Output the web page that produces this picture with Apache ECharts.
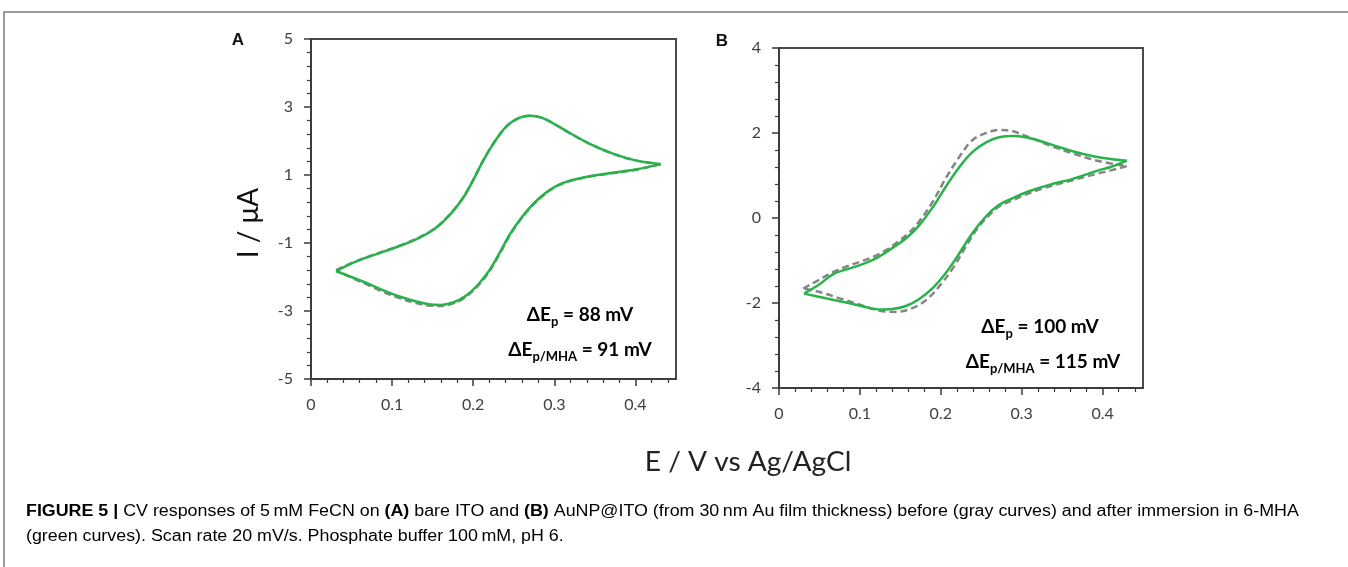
<!DOCTYPE html>
<html>
<head>
<meta charset="utf-8">
<script src="https://cdn.jsdelivr.net/npm/echarts@6/dist/echarts.min.js"></script>
<style>
html,body{margin:0;padding:0;background:#fff;}
#chart{width:1348px;height:567px;}
</style>
</head>
<body>
<div id="chart"></div>
<script>
// ---------- tick labels ----------
const xTickValues = [0, 0.1, 0.2, 0.3, 0.4];
const yTickValuesA = [-5, -3, -1, 1, 3, 5];
const yTickValuesB = [-4, -2, 0, 2, 4];

// ---------- Panel A (bare ITO) : [E (V), I (uA)] ----------
const aGrayFwd = [[0.031,-1.80],[0.05,-1.59],[0.073,-1.38],[0.1,-1.16],[0.12,-0.98],[0.134,-0.83],[0.147,-0.66],[0.158,-0.47],[0.17,-0.19],[0.18,0.09],[0.19,0.43],[0.2,0.86],[0.213,1.46],[0.227,2.0],[0.241,2.43],[0.256,2.67],[0.27,2.74],[0.285,2.68],[0.3,2.5],[0.32,2.22],[0.345,1.9],[0.373,1.62],[0.4,1.43],[0.431,1.32]];
const aGrayRev = [[0.431,1.32],[0.4,1.15],[0.37,1.05],[0.345,0.96],[0.325,0.86],[0.31,0.75],[0.295,0.56],[0.282,0.31],[0.27,0.03],[0.258,-0.32],[0.245,-0.78],[0.233,-1.3],[0.22,-1.83],[0.205,-2.28],[0.19,-2.6],[0.175,-2.78],[0.16,-2.85],[0.145,-2.84],[0.13,-2.77],[0.11,-2.63],[0.09,-2.45],[0.07,-2.23],[0.05,-2.02],[0.031,-1.80]];
const aGreenFwd = [[0.031,-1.83],[0.05,-1.6],[0.073,-1.39],[0.1,-1.17],[0.12,-0.99],[0.134,-0.84],[0.147,-0.67],[0.158,-0.48],[0.17,-0.2],[0.18,0.08],[0.19,0.42],[0.2,0.85],[0.213,1.45],[0.227,2.0],[0.241,2.43],[0.256,2.67],[0.27,2.74],[0.285,2.68],[0.3,2.5],[0.32,2.22],[0.345,1.9],[0.373,1.62],[0.4,1.43],[0.431,1.32]];
const aGreenRev = [[0.431,1.32],[0.4,1.16],[0.37,1.06],[0.345,0.97],[0.325,0.87],[0.31,0.76],[0.295,0.57],[0.282,0.33],[0.27,0.05],[0.258,-0.3],[0.245,-0.75],[0.233,-1.27],[0.22,-1.8],[0.205,-2.25],[0.19,-2.57],[0.175,-2.75],[0.16,-2.82],[0.145,-2.8],[0.13,-2.72],[0.11,-2.58],[0.09,-2.4],[0.07,-2.19],[0.05,-2.0],[0.031,-1.83]];

// ---------- Panel B (AuNP@ITO) ----------
const bGrayFwd = [[0.03,-1.66],[0.05,-1.45],[0.067,-1.27],[0.085,-1.13],[0.1,-1.03],[0.118,-0.9],[0.132,-0.76],[0.147,-0.56],[0.16,-0.36],[0.173,-0.09],[0.19,0.38],[0.206,0.93],[0.223,1.44],[0.239,1.83],[0.256,2.0],[0.272,2.07],[0.285,2.06],[0.3,1.97],[0.315,1.86],[0.334,1.71],[0.363,1.52],[0.395,1.34],[0.43,1.22]];
const bGrayRev = [[0.43,1.22],[0.41,1.12],[0.395,1.05],[0.363,0.89],[0.334,0.74],[0.309,0.58],[0.289,0.42],[0.272,0.27],[0.26,0.07],[0.247,-0.2],[0.231,-0.67],[0.215,-1.18],[0.198,-1.61],[0.182,-1.93],[0.165,-2.12],[0.145,-2.21],[0.124,-2.18],[0.1,-2.04],[0.075,-1.89],[0.05,-1.74],[0.03,-1.66]];
const bGreenFwd = [[0.031,-1.78],[0.05,-1.56],[0.067,-1.32],[0.085,-1.2],[0.1,-1.11],[0.118,-0.97],[0.132,-0.81],[0.147,-0.62],[0.16,-0.43],[0.173,-0.18],[0.19,0.25],[0.206,0.73],[0.223,1.2],[0.239,1.55],[0.256,1.78],[0.272,1.9],[0.29,1.93],[0.305,1.9],[0.32,1.83],[0.338,1.72],[0.363,1.57],[0.387,1.46],[0.41,1.39],[0.43,1.35]];
const bGreenRev = [[0.43,1.35],[0.41,1.2],[0.395,1.12],[0.363,0.92],[0.334,0.78],[0.309,0.63],[0.289,0.47],[0.272,0.31],[0.256,0.04],[0.239,-0.36],[0.223,-0.83],[0.206,-1.3],[0.19,-1.65],[0.173,-1.91],[0.157,-2.07],[0.14,-2.14],[0.125,-2.15],[0.108,-2.1],[0.083,-1.99],[0.058,-1.89],[0.031,-1.78]];

// ---------- styling / helpers ----------
const GREEN = '#27b24a';
const GRAY = '#858585';
const AXIS = '#3a3a3a';
const FONT = 'Lato, "Open Sans", sans-serif';

function minorTicks(min, max, step, majors) {
  const out = [];
  const n = Math.round((max - min) / step);
  for (let i = 0; i <= n; i++) {
    const v = +(min + i * step).toFixed(4);
    if (!majors.some(m => Math.abs(m - v) < 1e-6)) out.push(v);
  }
  return out;
}
const xMinor = minorTicks(0, 0.44, 0.02, xTickValues);
const yMinorA = minorTicks(-5, 5, 0.4, yTickValuesA);
const yMinorB = minorTicks(-4, 4, 0.4, yTickValuesB);

function mainX(grid) {
  return {
    type: 'value', gridIndex: grid, min: 0, max: 0.45,
    axisLine: { show: true, onZero: false, lineStyle: { color: AXIS, width: 1.5 } },
    axisTick: { show: true, inside: false, length: 7, customValues: xTickValues, lineStyle: { color: AXIS, width: 1.5 } },
    axisLabel: { show: true, customValues: xTickValues, margin: 18, color: '#404040', fontSize: 16, fontFamily: FONT,
      formatter: v => String(+v.toFixed(2)) },
    splitLine: { show: false }
  };
}
function minorX(grid) {
  return {
    type: 'value', gridIndex: grid, min: 0, max: 0.45, position: 'bottom',
    axisLine: { show: false, onZero: false },
    axisTick: { show: true, inside: false, length: 4, customValues: xMinor, lineStyle: { color: AXIS, width: 1.2 } },
    axisLabel: { show: false }, splitLine: { show: false }
  };
}
function mainY(grid, min, max, vals) {
  return {
    type: 'value', gridIndex: grid, min: min, max: max,
    axisLine: { show: true, onZero: false, lineStyle: { color: AXIS, width: 1.5 } },
    axisTick: { show: true, inside: false, length: 7, customValues: vals, lineStyle: { color: AXIS, width: 1.5 } },
    axisLabel: { show: true, customValues: vals, margin: 18, color: '#404040', fontSize: 16, fontFamily: FONT },
    splitLine: { show: false }
  };
}
function minorY(grid, min, max, vals) {
  return {
    type: 'value', gridIndex: grid, min: min, max: max, position: 'left',
    axisLine: { show: false, onZero: false },
    axisTick: { show: true, inside: false, length: 4, customValues: vals, lineStyle: { color: AXIS, width: 1.2 } },
    axisLabel: { show: false }, splitLine: { show: false }
  };
}
function line(data, xi, yi, color, dashed) {
  return {
    type: 'line', data: data, xAxisIndex: xi, yAxisIndex: yi,
    showSymbol: false, symbol: 'none', smooth: 0.35, animation: false, silent: true,
    lineStyle: { color: color, width: 2.5, type: dashed ? [7, 4] : 'solid' },
    z: dashed ? 2 : 3
  };
}

const chart = echarts.init(document.getElementById('chart'), null, { renderer: 'canvas' });

const subRich = {
  g: { fontSize: 19, fontWeight: 'bold', fontFamily: FONT, color: '#7a7a7a', lineHeight: 26 },
  gs: { fontSize: 13, fontWeight: 'bold', fontFamily: FONT, color: '#7a7a7a', lineHeight: 26, verticalAlign: 'bottom' },
  G: { fontSize: 19, fontWeight: 'bold', fontFamily: FONT, color: GREEN, lineHeight: 26 },
  Gs: { fontSize: 13, fontWeight: 'bold', fontFamily: FONT, color: GREEN, lineHeight: 26, verticalAlign: 'bottom' }
};
function annot(x, y, text) {
  return { type: 'text', x: x, y: y, z: 10, style: { text: text, rich: subRich, align: 'center', verticalAlign: 'middle' } };
}

const capFont = '"Liberation Sans", Arial, sans-serif';
const capRich = {
  n: { fontSize: 16, fontFamily: capFont, color: '#333' },
  b: { fontSize: 16, fontFamily: capFont, color: '#333', fontWeight: 'bold' }
};

chart.setOption({
  backgroundColor: '#fff',
  animation: false,
  grid: [
    { left: 311, top: 39, width: 365, height: 340, show: true, borderColor: '#4a4a4a', borderWidth: 2, backgroundColor: 'transparent' },
    { left: 779, top: 48, width: 364, height: 340, show: true, borderColor: '#4a4a4a', borderWidth: 2, backgroundColor: 'transparent' }
  ],
  xAxis: [mainX(0), minorX(0), mainX(1), minorX(1)],
  yAxis: [
    mainY(0, -5, 5, yTickValuesA),
    minorY(0, -5, 5, yMinorA),
    mainY(1, -4, 4, yTickValuesB),
    minorY(1, -4, 4, yMinorB)
  ],
  series: [
    line(aGrayFwd, 0, 0, GRAY, true), line(aGrayRev, 0, 0, GRAY, true),
    line(aGreenFwd, 0, 0, GREEN, false), line(aGreenRev, 0, 0, GREEN, false),
    line(bGrayFwd, 2, 2, GRAY, true), line(bGrayRev, 2, 2, GRAY, true),
    line(bGreenFwd, 2, 2, GREEN, false), line(bGreenRev, 2, 2, GREEN, false)
  ],
  graphic: [
    { type: 'rect', shape: { x: 4, y: 12, width: 1400, height: 620 }, style: { fill: 'none', stroke: '#9a9a9a', lineWidth: 2 }, z: 0 },
    { type: 'text', x: 238, y: 40, style: { text: 'A', font: 'bold 17px "Liberation Sans", Arial, sans-serif', fill: '#111', align: 'center', verticalAlign: 'middle' } },
    { type: 'text', x: 722, y: 41, style: { text: 'B', font: 'bold 17px "Liberation Sans", Arial, sans-serif', fill: '#111', align: 'center', verticalAlign: 'middle' } },
    { type: 'text', x: 249, y: 223, rotation: Math.PI / 2, style: { text: 'I / μA', font: '28px ' + FONT, fill: '#111', align: 'center', verticalAlign: 'middle' } },
    { type: 'text', x: 748, y: 463, scaleX: 1.08, style: { text: 'E / V vs Ag/AgCl', font: '26px ' + FONT, fill: '#222', align: 'center', verticalAlign: 'middle' } },
    annot(580, 315, '{g|ΔE}{gs|p}{g| = 88 mV}'),
    annot(580, 350, '{G|ΔE}{Gs|p/MHA}{G| = 91 mV}'),
    annot(1040, 327, '{g|ΔE}{gs|p}{g| = 100 mV}'),
    annot(1043, 362, '{G|ΔE}{Gs|p/MHA}{G| = 115 mV}'),
    { type: 'text', x: 26, y: 512, scaleX: 1.115, style: { text: '{b|FIGURE 5 |}{n| CV responses of 5\u2009mM FeCN on }{b|(A)}{n| bare ITO and }{b|(B)}{n| AuNP@ITO (from 30\u2009nm Au film thickness) before (gray curves) and after immersion in 6-MHA}', rich: capRich, align: 'left', verticalAlign: 'middle' } },
    { type: 'text', x: 26, y: 537, scaleX: 1.115, style: { text: '{n|(green curves). Scan rate 20 mV/s. Phosphate buffer 100\u2009mM, pH 6.}', rich: capRich, align: 'left', verticalAlign: 'middle' } }
  ]
});
</script>
</body>
</html>
